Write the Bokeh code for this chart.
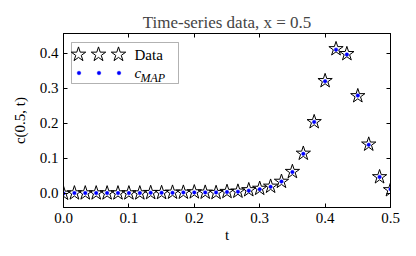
from bokeh.plotting import figure
from bokeh.models import (ColumnDataSource, FixedTicker, LinearAxis, Range1d, Legend,
                          LegendItem, Label, BoxAnnotation, PrintfTickFormatter)
from bokeh.core.properties import value
from bokeh.embed import file_html
from bokeh.resources import INLINE

# ---- data ----
t = [0.0, 0.0167, 0.0333, 0.05, 0.0667, 0.0833, 0.1, 0.1167, 0.1333, 0.15,
     0.1667, 0.1833, 0.2, 0.2167, 0.2333, 0.25, 0.2667, 0.2833, 0.3, 0.3167,
     0.3333, 0.35, 0.3667, 0.3833, 0.4, 0.4167, 0.4333, 0.45, 0.4667, 0.4833, 0.5]
c_data = [0.000, 0.001, 0.001, 0.001, 0.001, 0.001, 0.001, 0.001, 0.002, 0.002,
          0.003, 0.003, 0.004, 0.003, 0.002, 0.005, 0.006, 0.010, 0.014, 0.020,
          0.034, 0.062, 0.114, 0.204, 0.321, 0.412, 0.398, 0.278, 0.140, 0.047, 0.010]
c_map = [0.000, 0.001, 0.001, 0.001, 0.001, 0.001, 0.001, 0.001, 0.002, 0.002,
         0.002, 0.003, 0.003, 0.003, 0.003, 0.004, 0.005, 0.008, 0.012, 0.019,
         0.034, 0.061, 0.113, 0.204, 0.320, 0.410, 0.396, 0.279, 0.139, 0.047, 0.012]
x_ticks = [0.0, 0.1, 0.2, 0.3, 0.4, 0.5]
y_ticks = [0.0, 0.1, 0.2, 0.3, 0.4]
title_text = "Time-series data, x = 0.5"
x_label = "t"
y_label = "c(0.5, t)"
legend_labels = ["Data", "c", "MAP"]

FONT = "'Liberation Serif', serif"

p = figure(width=416, height=256, output_backend="svg", toolbar_location=None,
           x_range=Range1d(0, 0.5), y_range=Range1d(-0.04, 0.456),
           min_border_left=63, min_border_right=26, min_border_top=33, min_border_bottom=49,
           x_axis_location=None, y_axis_location=None)
p.background_fill_color = "white"
p.border_fill_color = "white"
p.outline_line_color = "black"
p.outline_line_width = 1
p.grid.visible = False

p.title.text = title_text
p.title.align = "center"
p.title.text_font = FONT
p.title.text_font_size = "17px"
p.title.text_font_style = "normal"
p.title.standoff = 3

def make_axis(show_labels, ticks, label=None):
    ax = LinearAxis(ticker=FixedTicker(ticks=ticks),
                    formatter=PrintfTickFormatter(format="%.1f"))
    ax.major_tick_in = 4
    ax.major_tick_out = 0
    ax.minor_tick_in = 0
    ax.minor_tick_out = 0
    ax.axis_line_color = "black"
    ax.major_tick_line_color = "black"
    ax.major_label_text_font = FONT
    ax.major_label_text_font_size = "15px"
    ax.major_label_text_color = "black"
    ax.major_label_standoff = 5
    if not show_labels:
        ax.major_label_overrides = {tk: "" for tk in ticks}
        ax.major_label_standoff = 0
    if label is not None:
        ax.axis_label = label
        ax.axis_label_text_font = FONT
        ax.axis_label_text_font_size = "15px"
        ax.axis_label_text_font_style = "normal"
        ax.axis_label_text_color = "black"
        ax.axis_label_standoff = 6
    return ax

bx = make_axis(True, x_ticks, x_label)
bx.axis_label_standoff = 1
p.add_layout(bx, "below")
ly = make_axis(True, y_ticks, y_label)
ly.axis_label_standoff = 9
p.add_layout(ly, "left")
p.add_layout(make_axis(False, x_ticks), "above")
p.add_layout(make_axis(False, y_ticks), "right")

src = ColumnDataSource(dict(t=t, c_data=c_data, c_map=c_map))
r_star = p.scatter("t", "c_data", source=src, marker="star", size=15,
                   fill_color="white", fill_alpha=0.0, line_color="black", line_width=1)
r_dot = p.scatter("t", "c_map", source=src, marker="circle", size=3.5,
                  fill_color="blue", line_color="blue", line_width=0.5)

# ---- legend (frame-relative screen units) ----
p.add_layout(BoxAnnotation(left=8, right=115, top=165, bottom=124,
                           left_units="screen", right_units="screen",
                           top_units="screen", bottom_units="screen",
                           fill_color="white", fill_alpha=1.0,
                           line_color="black", line_width=1, level="overlay"))

def glyph_legend(renderer, box, cx, cy):
    lg = Legend(items=[LegendItem(label=value(""), renderers=[renderer])],
                location=(cx - box // 2, cy - box // 2),
                glyph_width=box, glyph_height=box,
                label_width=0, label_height=0, label_standoff=0,
                padding=0, margin=0, spacing=0,
                border_line_color=None, background_fill_alpha=0.0,
                level="overlay")
    p.add_layout(lg)

for cx in (15, 35, 55):
    glyph_legend(r_star, 38, cx, 153)
    glyph_legend(r_dot, 9, cx, 134)

def add_text(x, y, txt, size, style="normal"):
    p.add_layout(Label(x=x, y=y, x_units="screen", y_units="screen", text=txt,
                       text_font=FONT, text_font_size=size, text_font_style=style,
                       text_baseline="middle", text_align="left", text_color="black",
                       level="overlay"))

add_text(71, 153, legend_labels[0], "15px")
add_text(71, 135, legend_labels[1], "15px", "italic")
add_text(77, 130, legend_labels[2], "12px", "italic")

open("out.html", "w").write(file_html(p, INLINE))
